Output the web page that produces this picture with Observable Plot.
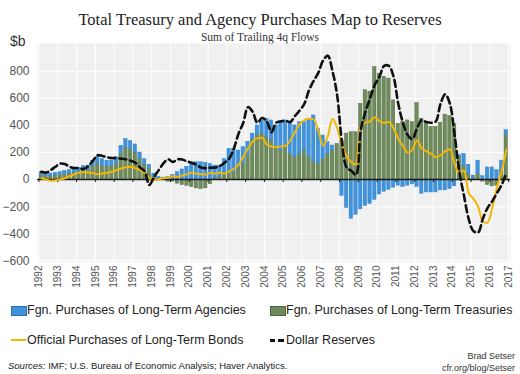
<!DOCTYPE html>
<html><head><meta charset="utf-8">
<script src="https://cdn.jsdelivr.net/npm/d3@7"></script>
<script src="https://cdn.jsdelivr.net/npm/@observablehq/plot@0.6"></script>
<style>
body{margin:0;background:#fff;}
#wrap{position:relative;width:520px;height:374px;overflow:hidden;font-family:"Liberation Sans",Arial,sans-serif;color:#222;}
.abs{position:absolute;white-space:nowrap;}
.sw{position:absolute;width:14px;height:8px;}
.lg{position:absolute;font-size:12.5px;color:#222;line-height:16px;white-space:nowrap;}
</style></head><body>
<div id="wrap">
  <div class="abs" style="left:0;width:520px;top:10px;text-align:center;font-family:'Liberation Serif',serif;font-size:16.5px;color:#222;">Total Treasury and Agency Purchases Map to Reserves</div>
  <div class="abs" style="left:0;width:520px;top:31px;text-align:center;font-family:'Liberation Serif',serif;font-size:11.5px;color:#333;">Sum of Trailing 4q Flows</div>
  <div class="abs" style="left:10px;top:33px;font-size:14px;color:#333;">$b</div>
  <div id="chart" class="abs" style="left:0;top:40px;"></div>
  <div class="sw" style="left:11px;top:306px;background:#3f93dc;border:1px solid #2b6fb0;"></div>
  <div class="lg" style="left:27px;top:302px;">Fgn. Purchases of Long-Term Agencies</div>
  <div class="sw" style="left:270px;top:306px;background:#6e8b5a;border:1px solid #4b6340;"></div>
  <div class="lg" style="left:286px;top:302px;">Fgn. Purchases of Long-Term Treasuries</div>
  <div class="abs" style="left:11px;top:339px;width:15px;height:2px;background:#f2b705;"></div>
  <div class="lg" style="left:27px;top:332px;">Official Purchases of Long-Term Bonds</div>
  <div class="abs" style="left:270px;top:339px;width:5px;height:2.5px;background:#111;"></div>
  <div class="abs" style="left:278px;top:339px;width:6px;height:2.5px;background:#111;"></div>
  <div class="lg" style="left:286px;top:332px;">Dollar Reserves</div>
  <div class="abs" style="left:8px;top:360px;font-size:9.5px;color:#222;"><i>Sources:</i> IMF; U.S. Bureau of Economic Analysis; Haver Analytics.</div>
  <div class="abs" style="right:5px;top:350px;font-size:9px;color:#333;text-align:right;line-height:12px;">Brad Setser<br>cfr.org/blog/Setser</div>
</div>
<script>
// Quarterly series, 1992Q1 .. 2016Q4 (sum of trailing 4 quarters, $bn)
const years = d3.range(1992, 2018);
const yTicks = [-600, -400, -200, 0, 200, 400, 600, 800];

const treasuries = [
  35, 25, 25, 30,      // 1992
  35, 40, 45, 50,      // 1993
  55, 65, 70, 100,     // 1994
  120, 100, 95, 100,   // 1995
  120, 190, 235, 225,  // 1996
  200, 150, 110, 80,   // 1997
  25, 5, -5, -15,      // 1998
  -15, -30, -40, -45,  // 1999
  -55, -65, -70, -65,  // 2000
  -35, 10, 20, 40,     // 2001
  42, 54, 91, 116,     // 2002
  180, 290, 330, 340,  // 2003
  313, 289, 240, 215,  // 2004
  240, 190, 165, 190,  // 2005
  215, 165, 128, 116,  // 2006
  153, 190, 215, 264,  // 2007
  290, 340, 350, 350,  // 2008
  560, 660, 650, 832,  // 2009
  783, 760, 746, 585,  // 2010
  412, 425, 437, 425,  // 2011
  565, 450, 420, 390,  // 2012
  390, 420, 480, 470,  // 2013
  410, 170, 100, 40,   // 2014
  10, 40, -15, -40,    // 2015
  -50, -45, 60, 330    // 2016
];
const agencies = [
  20, 20, 20, 20,
  20, 25, 27, 30,
  31, 35, 34, 40,
  50, 50, 45, 42,
  45, 60, 65, 60,
  60, 50, 40, 30,
  20, 15, 15, 20,
  35, 55, 75, 95,
  115, 128, 128, 125,
  116, 94, 84, 113,
  185, 173, 124, 124,
  100, 50, 70, 95,
  137, 148, 160, 210,
  197, 235, 235, 235,
  210, 285, 346, 259,
  173, 87, 37, 0,
  -120, -210, -290, -260,
  -220, -195, -180, -150,
  -110, -90, -75, -60,
  -45, -55, -45, -35,
  -55, -105, -95, -95,
  -95, -80, -80, -70,
  -50, 10, 90, 70,
  20, 100, 25, 90,
  90, 70, 80, 35
];
const official = [
  10, 0, -8, -5,
  0, 10, 25, 40,
  50, 55, 52, 48,
  40, 45, 50, 58,
  70, 82, 92, 95,
  85, 70, 45, 10,
  -5, 5, 10, 15,
  25, 20, 30, 40,
  50, 45, 40, 38,
  50, 45, 50, 45,
  60, 80, 110, 170,
  230, 280, 305, 310,
  260, 245, 240, 245,
  250, 290, 350, 410,
  440, 450, 445, 360,
  250, 320, 450, 380,
  260, 170, 130, 110,
  390, 420, 430, 460,
  430, 420, 425, 380,
  300, 250, 200, 220,
  290, 230, 210, 190,
  165, 180, 210, 225,
  120, 40, 70, -100,
  -140, -200, -310, -320,
  -210, -60, 60, 220
];
const reserves = [
  58, 52, 70, 95,
  118, 115, 95, 85,
  85, 78, 100, 140,
  180, 175, 165, 160,
  158, 155, 150, 140,
  125, 90, 60, -40,
  20, 70, 120, 150,
  130, 150, 148, 135,
  125, 110, 90, 85,
  88, 90, 100, 125,
  155, 230, 340, 420,
  535, 500, 420, 455,
  430, 350, 420, 430,
  435, 425, 470, 510,
  560, 660, 730, 790,
  880, 915, 800, 620,
  280, 90, 65, 35,
  360, 500, 600, 700,
  760, 840, 840, 760,
  560, 420, 330, 300,
  380, 440, 425, 420,
  430, 560, 630, 560,
  330, 60, -120, -290,
  -380, -390, -290, -210,
  -160, -100, -40, 50
];

const qStart = (i) => 1992 + i / 4;
const bars = [];
treasuries.forEach((v, i) => {
  bars.push({x1: qStart(i), x2: qStart(i) + 0.25, value: v, series: "Treasuries"});
  bars.push({x1: qStart(i), x2: qStart(i) + 0.25, value: agencies[i], series: "Agencies"});
});
const lineData = official.map((v, i) => ({t: qStart(i) + 0.125, official: v, reserves: reserves[i]}));

const chart = Plot.plot({
  width: 520,
  height: 260,
  marginLeft: 37,
  marginRight: 10,
  marginTop: 3,
  marginBottom: 38,
  style: {fontFamily: "'Liberation Sans', Arial, sans-serif", background: "transparent"},
  x: {domain: [1991.92, 2017.1]},
  y: {domain: [-612, 1005]},
  color: {domain: ["Treasuries", "Agencies"], range: ["#6e8b5a", "#3f93dc"]},
  marks: [
    Plot.frame({fill: "#f0f0f0", stroke: null}),
    Plot.gridY(yTicks, {stroke: "#fff", strokeOpacity: 1, strokeWidth: 1}),
    Plot.gridX(years, {stroke: "#fff", strokeOpacity: 1, strokeWidth: 1}),
    Plot.rectY(bars, {x1: "x1", x2: "x2", y: "value", fill: "series", stroke: (d) => d.series === "Treasuries" ? "#4f6843" : "#3280c8", strokeWidth: 0.4, insetLeft: 0.6, insetRight: 0.6}),
    Plot.ruleY([0], {stroke: "#1a1a1a", strokeWidth: 1.5}),
    Plot.ruleX(years, {x: (d) => d, y1: 0, y2: -22, stroke: "#1a1a1a", strokeWidth: 1}),
    Plot.line(lineData, {x: "t", y: "official", stroke: "#f2b705", strokeWidth: 2, curve: "monotone-x"}),
    Plot.line(lineData, {x: "t", y: "reserves", stroke: "#111", strokeWidth: 2.6, strokeDasharray: "7,4", curve: "catmull-rom"}),
    Plot.axisY(yTicks, {tickSize: 0, tickPadding: 8, fontSize: 12, color: "#555", label: null}),
    Plot.axisX(years, {tickSize: 0, tickPadding: 3, tickRotate: -90, fontSize: 10, color: "#555", label: null, tickFormat: (d) => String(d)})
  ]
});
document.getElementById("chart").appendChild(chart);
</script>
</body></html>
